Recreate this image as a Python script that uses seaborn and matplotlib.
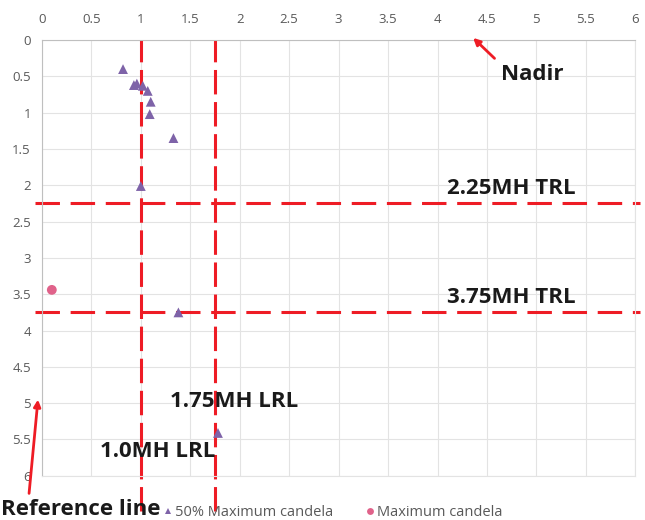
import numpy as np
import pandas as pd
import matplotlib
matplotlib.use('Agg')
import matplotlib.pyplot as plt
import seaborn as sns

# ========================
# DATA
# ========================
tri_x = [0.82, 0.93, 0.96, 1.02, 1.07, 1.10, 1.09, 1.33, 1.00, 1.38, 1.78]
tri_y = [0.40, 0.62, 0.60, 0.63, 0.70, 0.85, 1.02, 1.35, 2.01, 3.75, 5.41]
dot_x = [0.10]
dot_y = [3.44]

series_names = ['50% Maximum candela', 'Maximum candela']
lrl_x = [1.0, 1.75]
lrl_labels = ['1.0MH LRL', '1.75MH LRL']
trl_y = [2.25, 3.75]
trl_labels = ['2.25MH TRL', '3.75MH TRL']
ticks = np.arange(0, 6.01, 0.5)
tick_labels = ['0', '0.5', '1', '1.5', '2', '2.5', '3', '3.5', '4', '4.5', '5', '5.5', '6']

df = pd.DataFrame({
    'x': tri_x + dot_x,
    'y': tri_y + dot_y,
    'series': [series_names[0]] * len(tri_x) + [series_names[1]] * len(dot_x),
})

# ========================
# STYLE
# ========================
sns.set_style('white')
plt.rcParams['font.family'] = ['Open Sans', 'DejaVu Sans']

fig = plt.figure(figsize=(6.45, 5.2), dpi=100)
ax = fig.add_axes([0.065, 0.085, 0.92, 0.838])

RED = '#ee1c25'
PURPLE = '#7e63a8'
PINK = '#e0628a'

sns.scatterplot(data=df, x='x', y='y', hue='series', style='series',
                palette={series_names[0]: PURPLE, series_names[1]: PINK},
                markers={series_names[0]: '^', series_names[1]: 'o'},
                s=50, linewidth=0, ax=ax, zorder=3, legend=True)

ax.set_xlim(0, 6)
ax.set_ylim(6, 0)
ax.xaxis.tick_top()
ax.set_xticks(ticks)
ax.set_yticks(ticks)
ax.set_xticklabels(tick_labels)
ax.set_yticklabels(tick_labels)
ax.tick_params(length=0, labelsize=9.5, labelcolor='#595959')
ax.tick_params(axis='x', pad=10)
ax.tick_params(axis='y', pad=8)
ax.set_xlabel('')
ax.set_ylabel('')
ax.grid(True, color='#e3e3e3', linewidth=0.8)
for side in ['top', 'left']:
    ax.spines[side].set_color('#bfbfbf')
for side in ['right', 'bottom']:
    ax.spines[side].set_color('#e3e3e3')

# reference lines
for xv in lrl_x:
    ax.axvline(xv, ymin=-0.08, ymax=1.0, color=RED, lw=2.2,
               dashes=(8, 2.5), clip_on=False, zorder=2)
for yv in trl_y:
    ax.axhline(yv, xmin=-0.012, xmax=1.008, color=RED, lw=2.2,
               dashes=(8, 3.5), clip_on=False, zorder=2)

lab_kw = dict(fontsize=16, fontweight='bold', color='#1a1a1a')
for yv, lab in zip(trl_y, trl_labels):
    ax.text(4.1, yv - 0.2, lab, ha='left', va='center', **lab_kw)
ax.text(1.3, 4.98, lrl_labels[1], ha='left', va='center', **lab_kw)
ax.text(0.59, 5.67, lrl_labels[0], ha='left', va='center', **lab_kw)

# annotations
ax.annotate('Nadir', xy=(4.36, -0.03), xytext=(4.64, 0.48),
            ha='left', va='center', annotation_clip=False,
            arrowprops=dict(arrowstyle='-|>', color=RED, lw=2,
                            shrinkA=3, shrinkB=0, mutation_scale=10,
                            relpos=(0.0, 1.0)),
            **lab_kw)
ax.annotate('Reference line', xy=(-0.04, 4.95), xytext=(-0.41, 6.47),
            ha='left', va='center', annotation_clip=False,
            arrowprops=dict(arrowstyle='-|>', color=RED, lw=2,
                            shrinkA=2, shrinkB=0, mutation_scale=10,
                            relpos=(0.17, 1.0)),
            **lab_kw)

# legend
leg = ax.legend(loc='upper left', bbox_to_anchor=(0.19, -0.053), ncol=2,
                frameon=False, fontsize=10.5, handletextpad=0.0,
                handlelength=1.0, columnspacing=2.0, markerscale=0.7,
                borderaxespad=0)
for t in leg.get_texts():
    t.set_color('#595959')

plt.savefig('out.png', dpi=100)
plt.close()
